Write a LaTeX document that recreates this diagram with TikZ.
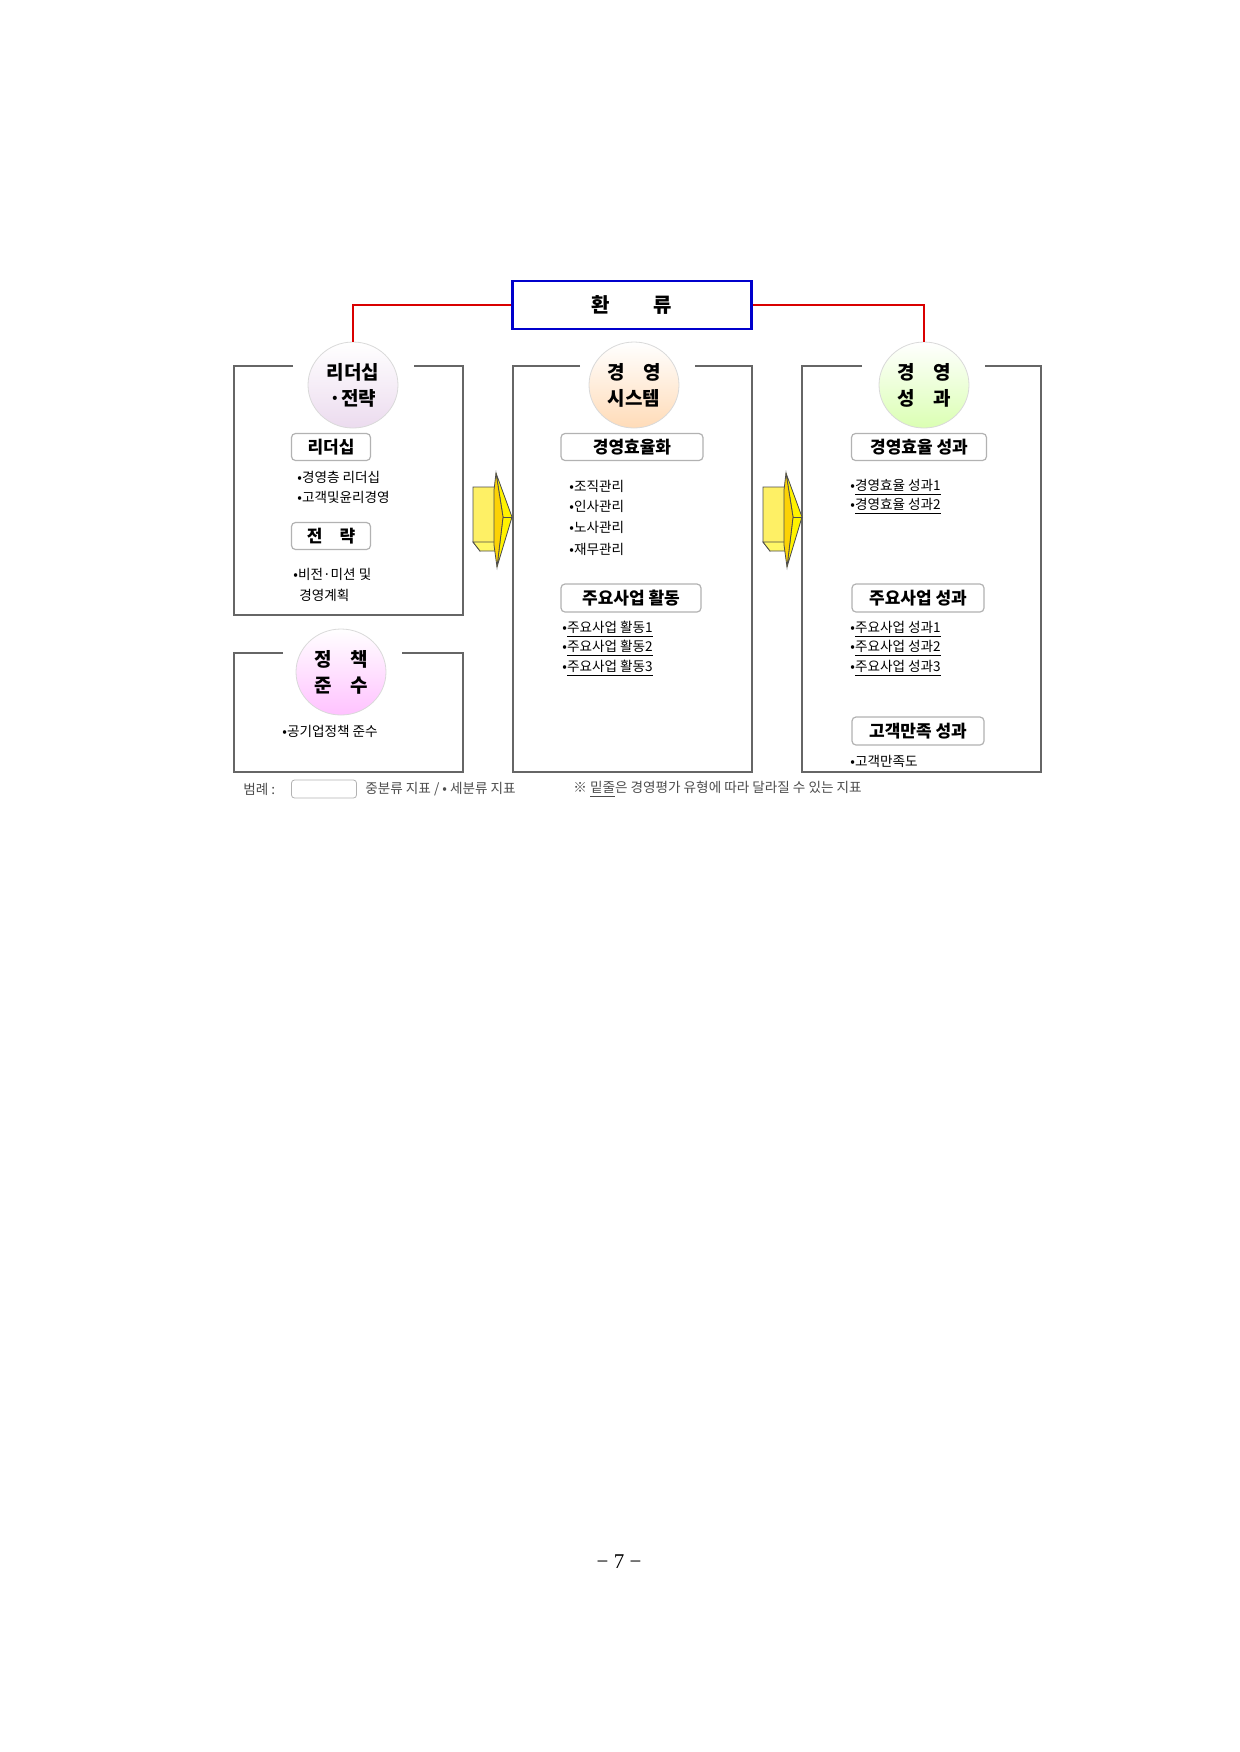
\documentclass[tikz,border=0pt]{standalone}
\usepackage{fontspec}
\usetikzlibrary{shapes.geometric}
\newfontfamily\kr{Noto Sans CJK KR}
\setmainfont{Liberation Serif}
\begin{document}
\begin{tikzpicture}[x=0.5pt,y=-0.5pt,
  panel/.style={draw=gray!80!black,line width=0.8pt},
  sub/.style={draw=gray!60,rounded corners=2pt,line width=0.6pt,fill=white,font=\kr\bfseries\fontsize{8.5}{9}\selectfont,inner sep=0pt},
  bul/.style={anchor=west,font=\kr\fontsize{6.8}{7}\selectfont,inner sep=0pt},
  circ/.style={draw=gray!30,ellipse,minimum width=45pt,minimum height=43pt,inner sep=0pt,font=\kr\bfseries\fontsize{9.5}{12}\selectfont,align=center},
  red/.style={draw=red!85!black,line width=1.2pt}
]
\useasboundingbox (0,0) rectangle (1239,1752);
% top box
\node[draw=blue!80!black,line width=1.2pt,minimum width=119.5pt,minimum height=24pt,inner sep=0pt,font=\kr\bfseries\fontsize{10}{12}\selectfont] (top) at (632,305) {환\hspace{2.2em}류};
% panels
\draw[panel] (293,366) -- (234,366) -- (234,615) -- (463,615) -- (463,366) -- (414,366);
\draw[panel] (283,653) -- (234,653) -- (234,772) -- (463,772) -- (463,653) -- (402,653);
\draw[panel] (580,366) -- (513,366) -- (513,772) -- (752,772) -- (752,366) -- (695,366);
\draw[panel] (862,366) -- (802,366) -- (802,772) -- (1041,772) -- (1041,366) -- (985,366);
% circles
\node[circ,top color=white,bottom color=blue!8!violet!14] (c1) at (353,385) {리더십\\[1pt]·전략};
\node[circ,top color=white,bottom color=orange!28] (c2) at (634,385) {경\hspace{1em}영\\[1pt]시스템};
\node[circ,top color=white,bottom color=green!30!lime!30] (c3) at (924,385) {경\hspace{1em}영\\[1pt]성\hspace{1em}과};
\node[circ,top color=white,bottom color=magenta!24] (c4) at (341,672) {정\hspace{1em}책\\[1pt]준\hspace{1em}수};
% red connectors
\draw[red] (top.west) -| (c1.north);
\draw[red] (top.east) -| (c3.north);
% sub boxes
\node[sub,minimum width=39.5pt,minimum height=13.5pt] (s1) at (331,447) {리더십};
\node[sub,minimum width=39.5pt,minimum height=13.5pt] (s2) at (331,536) {전\hspace{1em}략};
\node[sub,minimum width=71pt,minimum height=13.5pt] (s3) at (632,447) {경영효율화\hspace{2em}};
\node[sub,minimum width=70pt,minimum height=14pt] (s4) at (631,598) {주요사업 활동};
\node[sub,minimum width=67.5pt,minimum height=13.5pt] (s5) at (919,447) {경영효율 성과};
\node[sub,minimum width=66pt,minimum height=14pt] (s6) at (918,598) {주요사업 성과};
\node[sub,minimum width=66pt,minimum height=14pt] (s7) at (918,731) {고객만족 성과};
% bullets
\node[bul] (b1) at (297,477) {•경영층 리더십};
\node[bul] (b2) at (297,497) {•고객및윤리경영};
\node[bul] (b3) at (293,574) {•비전·미션 및};
\node[bul] (b4) at (299,595) {경영계획};
\node[bul] (b5) at (282,731) {•공기업정책 준수};
\node[bul] (m1) at (569,486) {•조직관리};
\node[bul] (m2) at (569,506) {•인사관리};
\node[bul] (m3) at (569,527) {•노사관리};
\node[bul] (m4) at (569,549) {•재무관리};
\node[bul] (m5) at (562,629) {•\underline{주요사업 활동1}};
\node[bul] (m6) at (562,648) {•\underline{주요사업 활동2}};
\node[bul] (m7) at (562,668) {•\underline{주요사업 활동3}};
\node[bul] (r1) at (850,487) {•\underline{경영효율 성과1}};
\node[bul] (r2) at (850,506) {•\underline{경영효율 성과2}};
\node[bul] (r3) at (850,629) {•\underline{주요사업 성과1}};
\node[bul] (r4) at (850,648) {•\underline{주요사업 성과2}};
\node[bul] (r5) at (850,668) {•\underline{주요사업 성과3}};
\node[bul] (r6) at (850,761) {•고객만족도};
% yellow arrows
\foreach \dx in {0,290}{
 \begin{scope}[xshift=\dx*0.5pt]
  \fill[yellow!90!orange!60,draw=gray!60!black,line width=0.4pt] (473,487) -- (497,487) -- (497,542) -- (480,551) -- (473,542) -- cycle;
  \fill[yellow!60!white,draw=gray!60!black,line width=0.4pt] (473,542) -- (497,542) -- (497,551) -- (480,551) -- cycle;
  \fill[yellow,draw=gray!60!black,line width=0.4pt] (496,473) -- (512,517) -- (497,567) -- (503,517) -- cycle;
  \fill[yellow!70!orange,draw=gray!60!black,line width=0.4pt] (496,473) -- (503,517) -- (497,567) -- (494,545) -- (494,490) -- cycle;
  \draw[gray!60!black,line width=0.4pt] (503,517) -- (512,517);
 \end{scope}}
% legend
\node[bul,text=gray!60!black] (lg) at (243,789) {범례 :};
\node[draw=gray!60,rounded corners=1.5pt,minimum width=32.5pt,minimum height=9pt,inner sep=0pt] (lb) at (324,789) {};
\node[bul,text=gray!60!black] (lt) at (365,789) {중분류 지표 / • 세분류 지표};
\node[bul,text=gray!60!black] (ln) at (573,789) {※ \underline{밑줄}은 경영평가 유형에 따라 달라질 수 있는 지표};
% page number
\node[font=\fontsize{10.5}{12}\selectfont] (pg) at (619,1562) {−\ 7\ −};
\end{tikzpicture}
\end{document}
